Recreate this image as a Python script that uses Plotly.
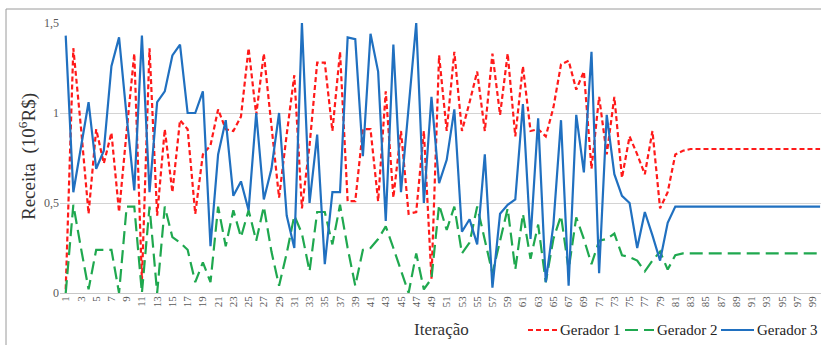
import plotly.graph_objects as go

# Iterations 1..100
iteracao = list(range(1, 101))

gerador_1 = [
    0.02, 1.36, 0.92, 0.44, 0.91, 0.72, 0.89, 0.45, 0.90, 1.33,
    0.07, 1.36, 0.43, 0.91, 0.56, 0.96, 0.91, 0.44, 0.77, 0.82,
    1.02, 0.91, 0.90, 0.98, 1.36, 0.99, 1.33, 0.92, 0.53, 0.88,
    1.21, 0.47, 0.82, 1.28, 1.28, 0.90, 1.34, 0.51, 0.51, 0.91,
    0.91, 0.51, 1.12, 0.53, 0.90, 0.44, 0.45, 0.90, 0.08, 1.32,
    0.90, 1.34, 0.90, 1.06, 1.23, 0.90, 1.33, 0.99, 1.33, 0.87,
    1.26, 0.90, 0.91, 0.87, 1.03, 1.27, 1.29, 1.13, 1.23, 0.69,
    1.09, 0.77, 1.09, 0.64, 0.87, 0.77, 0.66, 0.90, 0.47, 0.56,
    0.77, 0.79, 0.80, 0.80, 0.80, 0.80, 0.80, 0.80, 0.80, 0.80,
    0.80, 0.80, 0.80, 0.80, 0.80, 0.80, 0.80, 0.80, 0.80, 0.80,
]

gerador_2 = [
    0.00, 0.49, 0.25, 0.02, 0.24, 0.24, 0.24, 0.00, 0.48, 0.48,
    0.00, 0.48, 0.00, 0.48, 0.31, 0.28, 0.24, 0.06, 0.17, 0.06,
    0.48, 0.26, 0.46, 0.31, 0.46, 0.29, 0.48, 0.23, 0.04, 0.22,
    0.43, 0.33, 0.12, 0.45, 0.45, 0.27, 0.49, 0.25, 0.04, 0.24,
    0.25, 0.30, 0.37, 0.25, 0.12, 0.00, 0.22, 0.02, 0.08, 0.49,
    0.35, 0.48, 0.22, 0.28, 0.48, 0.30, 0.11, 0.29, 0.47, 0.13,
    0.44, 0.19, 0.38, 0.06, 0.30, 0.43, 0.13, 0.42, 0.30, 0.16,
    0.29, 0.30, 0.33, 0.21, 0.20, 0.18, 0.12, 0.18, 0.23, 0.13,
    0.21, 0.22, 0.22, 0.22, 0.22, 0.22, 0.22, 0.22, 0.22, 0.22,
    0.22, 0.22, 0.22, 0.22, 0.22, 0.22, 0.22, 0.22, 0.22, 0.22,
]

gerador_3 = [
    1.43, 0.56, 0.81, 1.06, 0.69, 0.79, 1.26, 1.42, 0.98, 0.57,
    1.43, 0.56, 1.06, 1.12, 1.32, 1.38, 1.00, 1.00, 1.12, 0.26,
    0.77, 0.96, 0.54, 0.62, 0.46, 1.00, 0.52, 0.69, 1.00, 0.43,
    0.25, 1.50, 0.50, 0.88, 0.16, 0.56, 0.56, 1.42, 1.41, 0.76,
    1.44, 1.23, 0.40, 1.38, 0.56, 1.03, 1.50, 0.50, 1.09, 0.61,
    0.74, 1.02, 0.34, 0.41, 0.27, 0.77, 0.03, 0.44, 0.49, 0.52,
    1.05, 0.30, 0.97, 0.06, 0.38, 0.96, 0.04, 0.99, 0.67, 1.34,
    0.11, 0.99, 0.66, 0.54, 0.50, 0.25, 0.45, 0.32, 0.18, 0.39,
    0.48, 0.48, 0.48, 0.48, 0.48, 0.48, 0.48, 0.48, 0.48, 0.48,
    0.48, 0.48, 0.48, 0.48, 0.48, 0.48, 0.48, 0.48, 0.48, 0.48,
]

series_names = ["Gerador 1", "Gerador 2", "Gerador 3"]
x_ticks = list(range(1, 100, 2))
y_ticks = [0, 0.5, 1, 1.5]
y_tick_text = ["0", "0,5", "1", "1,5"]

SERIF = "Liberation Serif"
styles = [
    dict(color="#ff1a1a", width=2.2, dash="5px,3px"),
    dict(color="#1fa84f", width=2.2, dash="13px,6px"),
    dict(color="#2070c0", width=2.2, dash="solid"),
]

fig = go.Figure()
for name, values, style in zip(series_names, [gerador_1, gerador_2, gerador_3], styles):
    fig.add_trace(go.Scatter(
        x=iteracao, y=values, mode="lines", name=name,
        line=style, cliponaxis=False, showlegend=False,
    ))

# Plot area: x 60..821 px, y 23..293 px
pw, ph = 761.0, 270.0

def px(xp):
    return (xp - 60) / pw

def py(yp):
    return (293 - yp) / ph

shapes = [
    # frame around the chart
    dict(type="line", xref="paper", yref="paper",
         x0=px(6), x1=px(821), y0=py(9), y1=py(9),
         line=dict(color="#9a9a9a", width=1)),
    dict(type="line", xref="paper", yref="paper",
         x0=px(6), x1=px(6), y0=py(9), y1=py(345),
         line=dict(color="#9a9a9a", width=1)),
]
annotations = [
    dict(text="Iteração", xref="paper", yref="paper",
         x=px(441), y=py(329), xanchor="center", yanchor="middle",
         showarrow=False, font=dict(family=SERIF, size=17, color="#333333")),
    dict(text="Receita  (10<sup>6</sup>R$)", xref="paper", yref="paper",
         x=px(27), y=py(157), xanchor="center", yanchor="middle", textangle=-90,
         showarrow=False, font=dict(family=SERIF, size=19, color="#333333")),
]

# legend row along the bottom right: sample line + label for each series
legend_slots = [(528, 557), (625, 654), (721, 754)]
for (x0, x1), name, style in zip(legend_slots, series_names, styles):
    shapes.append(dict(type="line", xref="paper", yref="paper",
                       x0=px(x0), x1=px(x1), y0=py(330), y1=py(330),
                       line=style))
    annotations.append(dict(text=name, xref="paper", yref="paper",
                            x=px(x1 + 1), y=py(330), xanchor="left", yanchor="middle",
                            showarrow=False,
                            font=dict(family=SERIF, size=15, color="#222222")))

fig.update_layout(
    width=821, height=345,
    margin=dict(l=60, r=0, t=23, b=52),
    paper_bgcolor="white", plot_bgcolor="white",
    font=dict(family=SERIF),
    showlegend=False,
    xaxis=dict(
        range=[0.25, 100.12], tickmode="array", tickvals=x_ticks,
        ticktext=[str(v) for v in x_ticks], tickangle=-90,
        tickfont=dict(family=SERIF, size=11, color="#595959"),
        showgrid=False, zeroline=False, showline=False, ticks="",
    ),
    yaxis=dict(
        range=[0, 1.5], tickmode="array", tickvals=y_ticks, ticktext=y_tick_text,
        tickfont=dict(family=SERIF, size=12, color="#595959"),
        showgrid=True, gridcolor="#d4d4d4", gridwidth=1,
        zeroline=True, zerolinecolor="#c8c8c8", zerolinewidth=1,
        showline=False, ticks="", ticklen=0,
    ),
    shapes=shapes,
    annotations=annotations,
)

fig.write_html("out.html")
